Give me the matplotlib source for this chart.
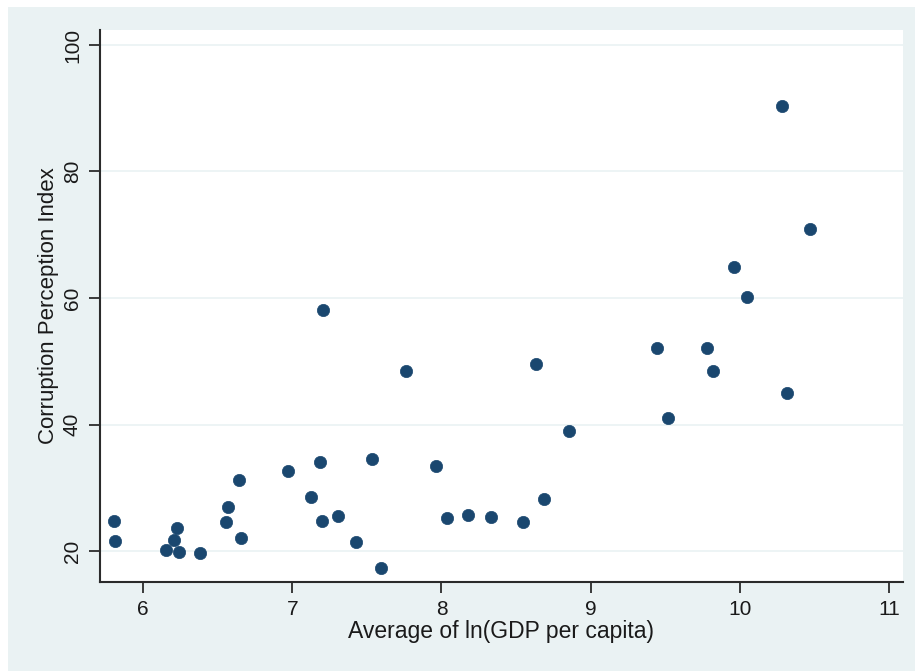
import matplotlib
matplotlib.use("Agg")
import matplotlib.pyplot as plt
from matplotlib.patches import Rectangle

plt.rcParams['font.family'] = ['Liberation Sans', 'DejaVu Sans']

gdp = [5.806, 5.81, 6.154, 6.21, 6.23, 6.24, 6.38, 6.556, 6.57, 6.643, 6.657,
       6.97, 7.126, 7.186, 7.20, 7.206, 7.307, 7.43, 7.535, 7.595, 7.763,
       7.964, 8.04, 8.18, 8.33, 8.547, 8.634, 8.688, 8.855, 9.445, 9.52,
       9.78, 9.82, 9.961, 10.048, 10.283, 10.316, 10.47]
cpi = [24.7, 21.6, 20.2, 21.7, 23.6, 19.8, 19.7, 24.6, 27.0, 31.2, 22.1,
       32.6, 28.5, 34.1, 24.7, 58.1, 25.5, 21.4, 34.5, 17.3, 48.5,
       33.4, 25.2, 25.7, 25.4, 24.6, 49.6, 28.2, 39.0, 52.1, 41.0,
       52.1, 48.5, 64.9, 60.2, 90.4, 45.0, 70.9]
xticks = [6, 7, 8, 9, 10, 11]
yticks = [20, 40, 60, 80, 100]

W, H = 915, 671
fig = plt.figure(figsize=(W / 100, H / 100), dpi=100, facecolor='white')
bg = '#EAF2F3'
fig.patches.append(Rectangle((8 / W, 0), (W - 8) / W, (H - 7) / H,
                             transform=fig.transFigure, facecolor=bg,
                             edgecolor='none', zorder=-10))

ax = fig.add_axes([100 / W, 1 - 582 / H, (903 - 100) / W, (582 - 30) / H])
ax.set_zorder(1)
ax.set_facecolor('white')
ax.scatter(gdp, cpi, s=78, color='#1A476F', edgecolors='#1A476F',
           linewidths=0.5, zorder=3)

ax.set_xlim(5.712, 11.092)
ax.set_ylim(15.10, 102.37)
ax.set_xticks(xticks)
ax.set_yticks(yticks)
ax.set_xticklabels([str(t) for t in xticks], fontsize=15)
ax.set_yticklabels([str(t) for t in yticks], fontsize=15, rotation=90,
                   va='center')
ax.yaxis.grid(True, color='#EAF2F3', linewidth=1.2, zorder=0)
ax.set_axisbelow(True)
for s in ['top', 'right']:
    ax.spines[s].set_visible(False)
for s in ['left', 'bottom']:
    ax.spines[s].set_color('#2b2b2b')
    ax.spines[s].set_linewidth(1.5)
ax.tick_params(axis='x', direction='out', length=8, width=1.3,
               color='#2b2b2b', labelcolor='#1a1a1a', pad=5)
ax.tick_params(axis='y', direction='out', length=8, width=1.3,
               color='#2b2b2b', labelcolor='#1a1a1a', pad=5)

ax.set_xlabel('Average of ln(GDP per capita)', fontsize=16.5, color='#1a1a1a',
              labelpad=1)
ax.set_ylabel('Corruption Perception Index', fontsize=16, color='#1a1a1a',
              labelpad=3)

fig.savefig('out.png', dpi=100, facecolor='white')
